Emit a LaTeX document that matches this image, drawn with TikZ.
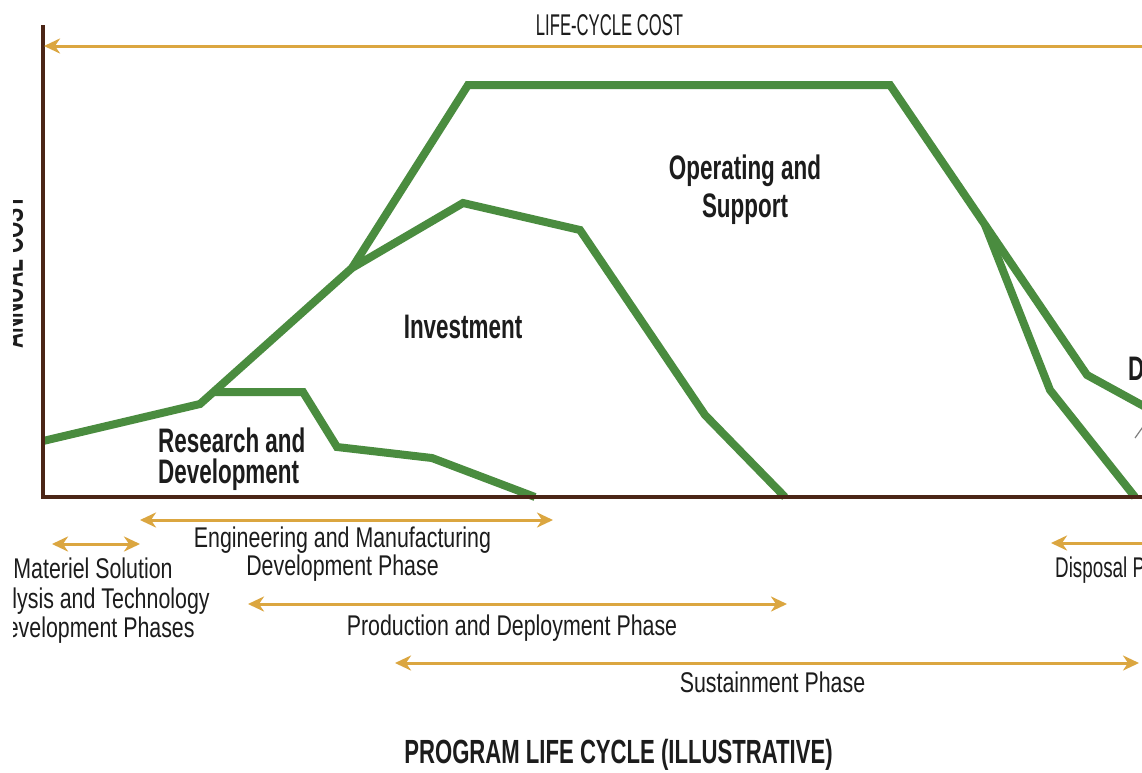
\documentclass[tikz,border=0pt]{standalone}
\usepackage{fontspec}
\setmainfont{Liberation Sans}
\newfontfamily\condr[FakeStretch=0.75]{Liberation Sans}
\newfontfamily\condb[FakeStretch=0.66]{Liberation Sans}
\usetikzlibrary{arrows.meta}
\definecolor{cgreen}{HTML}{4A8C3F}
\definecolor{cgold}{HTML}{DBA640}
\definecolor{cbrown}{HTML}{4B2516}
\definecolor{ctext}{HTML}{1C1C1C}
\tikzset{
  gtip/.tip={Stealth[length=16pt,width=15pt,inset=5pt]},
  curve/.style={draw=cgreen, line width=8pt, line join=miter},
  axisline/.style={draw=cbrown, line width=4pt},
  goldline/.style={draw=cgold, line width=3pt},
  phaselbl/.style={font=\condr\fontsize{28.5}{29.5}\selectfont, text=ctext, inner sep=0pt, anchor=base},
  arealbl/.style={font=\condb\bfseries\fontsize{34}{34}\selectfont, text=ctext, inner sep=0pt, anchor=base},
}
\begin{document}
\begin{tikzpicture}[x=1pt,y=1pt]
\useasboundingbox (0,0) rectangle (1142,-772);
\fill[white] (0,0) rectangle (1142,-772);
\clip (13,0) rectangle (1142,-772);

% cost curves
\draw[curve] (43,-441) -- (200,-404) -- (352,-268) -- (463,-203) -- (580,-230) -- (705,-415) -- (785,-497);
\draw[curve] (352,-268) -- (468,-85) -- (890,-85) -- (1087,-375) -- (1160,-415);
\draw[curve] (985,-225) -- (1050,-390) -- (1135,-497);
\draw[curve] (213,-392) -- (303,-392) -- (337,-447) -- (432,-458) -- (535,-497);

% axes
\coordinate (ytop) at (43,-25);
\coordinate (origin) at (43,-497);
\coordinate (xend) at (1160,-497);
\draw[axisline] (ytop) -- (origin) -- (xend);
\node[font=\condb\bfseries\fontsize{32}{32}\selectfont, text=ctext, inner sep=0pt, rotate=90, anchor=base] (ylbl) at (23,-272) {ANNUAL COST};

% life-cycle cost arrow
\coordinate (lccL) at (44,-46);
\coordinate (lccR) at (1160,-46);
\draw[goldline, gtip-] (lccL) -- (lccR);
\node[phaselbl, font=\condr\fontsize{30}{30}\selectfont] (lcc) at (609.5,-35) {\scalebox{0.74}[1]{LIFE-CYCLE COST}};

% area labels
\node[arealbl, anchor=base west] (rd1) at (158,-452) {Research and};
\node[arealbl, anchor=base west] (rd2) at (158,-483) {Development};
\node[arealbl] (inv) at (463,-338) {Investment};
\node[arealbl] (os1) at (745,-179) {Operating and};
\node[arealbl] (os2) at (745,-217) {Support};
\node[arealbl, anchor=base west] (disp) at (1128,-380) {Disposal};
\coordinate (dispA) at (1135,-438);
\coordinate (dispB) at (1152,-414);
\draw[gray, line width=1.2pt] (dispA) -- (dispB);

% phase arrows
\coordinate (msL) at (52,-544);
\coordinate (msR) at (140,-544);
\draw[goldline, gtip-gtip] (msL) -- (msR);
\node[phaselbl] (ms1) at (93,-578) {Materiel Solution};
\node[phaselbl] (ms2) at (92,-608) {Analysis and Technology};
\node[phaselbl] (ms3) at (93,-637) {Development Phases};

\coordinate (emL) at (140,-520);
\coordinate (emR) at (553,-520);
\draw[goldline, gtip-gtip] (emL) -- (emR);
\node[phaselbl] (em1) at (342.5,-547) {Engineering and Manufacturing};
\node[phaselbl] (em2) at (342.5,-575) {Development Phase};

\coordinate (pdL) at (248,-604);
\coordinate (pdR) at (787,-604);
\draw[goldline, gtip-gtip] (pdL) -- (pdR);
\node[phaselbl] (pd) at (512,-635) {Production and Deployment Phase};

\coordinate (suL) at (395,-663);
\coordinate (suR) at (1139,-663);
\draw[goldline, gtip-gtip] (suL) -- (suR);
\node[phaselbl] (su) at (772.5,-692) {Sustainment Phase};

\coordinate (dpL) at (1051,-543);
\coordinate (dpR) at (1160,-543);
\draw[goldline, gtip-] (dpL) -- (dpR);
\node[phaselbl, anchor=base west] (dp) at (1055,-577) {\scalebox{0.88}[1]{Disposal Phase}};

% title
\node[font=\condb\bfseries\fontsize{33.5}{33.5}\selectfont, text=ctext, inner sep=0pt, anchor=base] (title) at (618.5,-763) {PROGRAM LIFE CYCLE (ILLUSTRATIVE)};
\end{tikzpicture}
\end{document}
